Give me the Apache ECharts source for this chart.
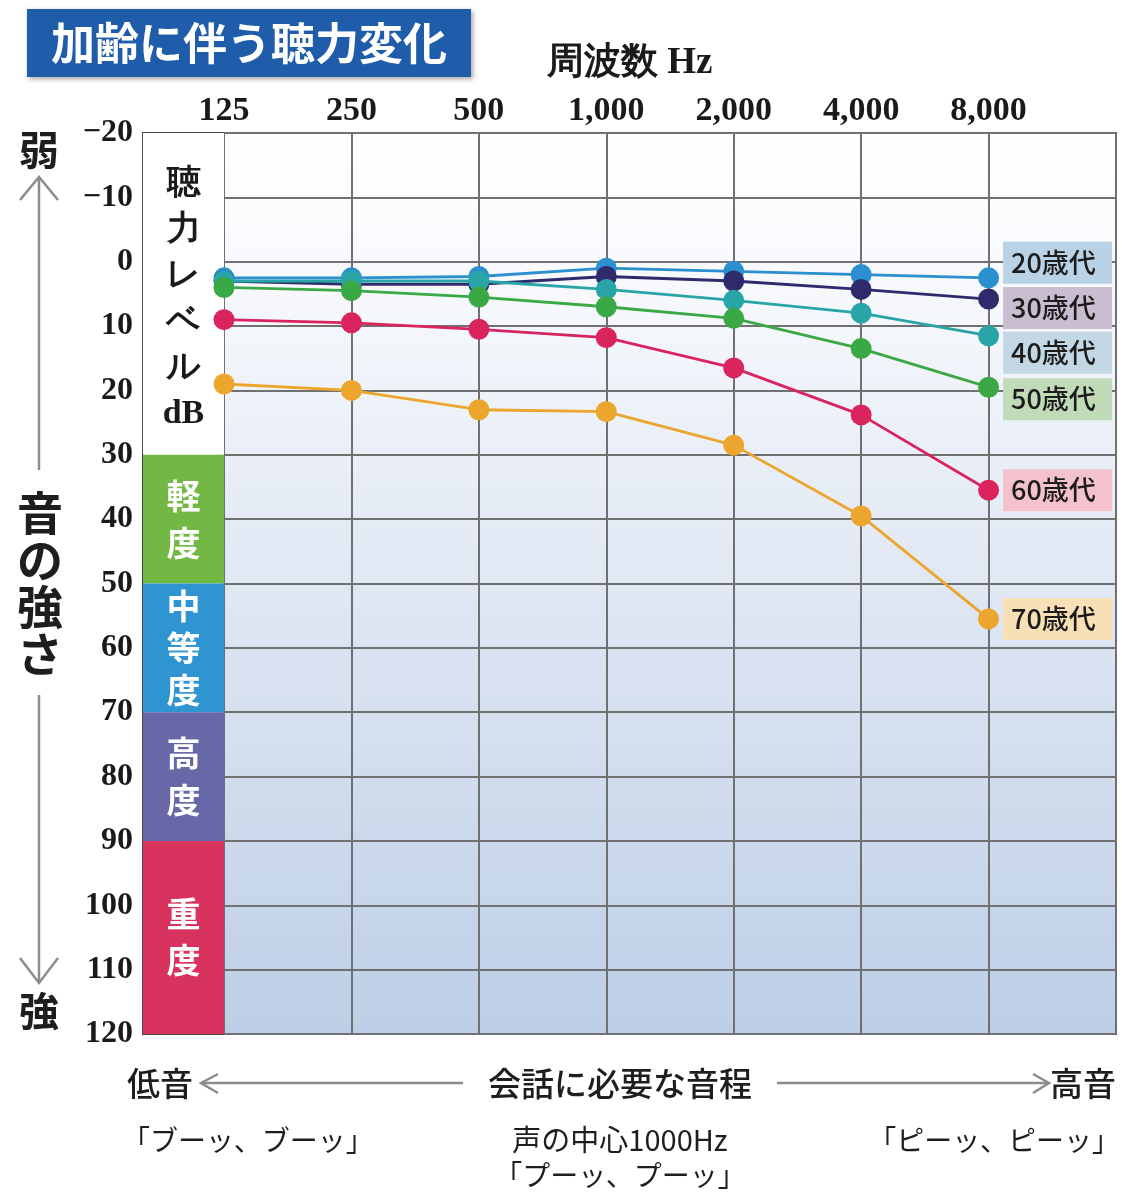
<!DOCTYPE html>
<html><head><meta charset="utf-8">
<script src="https://cdn.jsdelivr.net/npm/echarts@6/dist/echarts.min.js"></script>
<style>html,body{margin:0;padding:0;background:#fff}#c{width:1122px;height:1195px}</style>
</head><body><div id="c"></div>
<script>
// ---- data ----
const freqLabels = ['125', '250', '500', '1,000', '2,000', '4,000', '8,000'];
const seriesNames = ['20歳代', '30歳代', '40歳代', '50歳代', '60歳代', '70歳代'];
const age20 = [2.5, 2.5, 2.3, 1.0, 1.5, 2.0, 2.5];
const age30 = [3.0, 3.5, 3.5, 2.3, 3.0, 4.3, 5.8];
const age40 = [3.0, 3.0, 3.0, 4.3, 6.0, 8.0, 11.5];
const age50 = [4.0, 4.5, 5.5, 7.0, 8.8, 13.5, 19.5];
const age60 = [9.0, 9.5, 10.5, 11.8, 16.5, 23.8, 35.5];
const age70 = [19.0, 20.0, 23.0, 23.3, 28.5, 39.5, 55.5];
const bandNames = ['軽度', '中等度', '高度', '重度'];
const bandFrom = [30, 50, 70, 90];
const bandTo = [50, 70, 90, 120];
const yMin = -20, yMax = 120, yStep = 10;

// ---- styles ----
const lineColors = ['#2b8fd0', '#2e2a6c', '#2aa5a7', '#3ba846', '#d9245e', '#eca52d'];
const labelBg = ['#b9d2e5', '#c9bdd0', '#c3d8e4', '#c1dab8', '#f3c2cd', '#f8e0b6'];
const labelDy = [-15, 9, 17, 12, 0, 0];
const bandColors = ['#73b844', '#2f95d0', '#6867a8', '#d8335f'];
const bandLH = [47, 42, 47, 46];
const serifFont = "'Liberation Serif', 'DejaVu Serif', serif";
const sansFont = "'Noto Sans CJK JP', 'Noto Sans', sans-serif";

const allAges = [age20, age30, age40, age50, age60, age70];

const chart = echarts.init(document.getElementById('c'), null, {renderer: 'canvas'});

const lineSeries = allAges.map((arr, si) => ({
  type: 'line',
  name: seriesNames[si],
  xAxisIndex: 0, yAxisIndex: 0,
  z: 3 + si,
  symbol: 'circle',
  symbolSize: 21,
  lineStyle: {color: lineColors[si], width: 2.8},
  itemStyle: {color: lineColors[si]},
  label: {show: false},
  data: arr.map((v, i) => i === arr.length - 1 ? {
    value: [i, v],
    label: {
      show: true, position: 'right', distance: 4, offset: [0, labelDy[si]],
      formatter: seriesNames[si],
      backgroundColor: labelBg[si],
      padding: [6, 10, 6, 8], width: 91, lineHeight: 30,
      fontSize: 27, fontFamily: sansFont, fontWeight: 500, color: '#1c1c1c'
    }
  } : [i, v])
}));

const bandSeries = {
  type: 'line', xAxisIndex: 1, yAxisIndex: 1, data: [], silent: true,
  markArea: {
    silent: true,
    data: [
      [{yAxis: yMin, itemStyle: {color: '#ffffff'},
        label: {show: true, position: 'inside', offset: [0, 5], formatter: '聴\n力\nレ\nベ\nル\ndB',
          color: '#1a1a1a', fontSize: 34, lineHeight: 46, fontWeight: 'bold', fontFamily: serifFont}},
       {yAxis: bandFrom[0]}]
    ].concat(bandNames.map((n, i) => [
      {yAxis: bandFrom[i], itemStyle: {color: bandColors[i]},
       label: {show: true, position: 'inside', formatter: n.split('').join('\n'),
         color: '#ffffff', fontSize: 34, lineHeight: bandLH[i], fontWeight: 'bold', fontFamily: sansFont}},
      {yAxis: bandTo[i]}
    ]))
  }
};

const gTexts = (t, x, y, size, align, extra) => Object.assign({
  type: 'text', x: x, y: y, silent: true,
  style: Object.assign({text: t, fontSize: size, fontFamily: sansFont, fill: '#1e1e1e',
    align: align || 'left', verticalAlign: 'middle'}, extra || {})
});
const gLine = (x1, y1, x2, y2) => ({type: 'line', silent: true, shape: {x1, y1, x2, y2},
  style: {stroke: '#8c8c8c', lineWidth: 2.5}});
const gChev = (pts) => ({type: 'polyline', silent: true, shape: {points: pts},
  style: {stroke: '#8c8c8c', lineWidth: 2.5, fill: null}});

chart.setOption({
  animation: false,
  backgroundColor: '#ffffff',
  title: [
    {text: '加齢に伴う聴力変化', left: 27, top: 9,
     backgroundColor: '#1f5ca9', padding: [10, 24, 10, 24],
     shadowBlur: 5, shadowColor: 'rgba(0,0,0,0.35)', shadowOffsetX: 2, shadowOffsetY: 2,
     textStyle: {color: '#ffffff', fontSize: 44, lineHeight: 48, fontWeight: 'bold', fontFamily: sansFont}},
    {text: '周波数 Hz', left: 542, top: 40,
     textStyle: {color: '#1a1a1a', fontSize: 37, fontWeight: 'bold', fontFamily: serifFont}}
  ],
  grid: [
    {left: 224, right: 6, top: 133, bottom: 161, show: true, borderColor: '#4a4a4a', borderWidth: 2,
     outerBoundsMode: 'none', containLabel: false,
     backgroundColor: new echarts.graphic.LinearGradient(0, 0, 0, 1, [
       {offset: 0, color: '#ffffff'}, {offset: 0.18, color: '#f6f8fc'}, {offset: 1, color: '#bdcee6'}])},
    {left: 143, width: 81, top: 133, bottom: 161, show: true, borderColor: '#4a4a4a', borderWidth: 2,
     outerBoundsMode: 'none', containLabel: false, backgroundColor: '#ffffff'}
  ],
  xAxis: [
    {type: 'value', gridIndex: 0, position: 'top', min: 0, max: freqLabels.length, interval: 1,
     axisLine: {show: false}, axisTick: {show: false},
     splitLine: {show: true, lineStyle: {color: '#707070', width: 2}},
     axisLabel: {margin: 5, formatter: v => freqLabels[v] || '', color: '#1a1a1a',
       fontSize: 34, fontWeight: 'bold', fontFamily: serifFont}},
    {type: 'value', gridIndex: 1, min: 0, max: 1, show: false}
  ],
  yAxis: [
    {type: 'value', gridIndex: 0, inverse: true, min: yMin, max: yMax, interval: yStep,
     axisLine: {show: false}, axisTick: {show: false}, axisLabel: {show: false},
     splitLine: {show: true, lineStyle: {color: '#707070', width: 2}}},
    {type: 'value', gridIndex: 1, inverse: true, min: yMin, max: yMax, interval: yStep,
     axisLine: {show: false}, axisTick: {show: false}, splitLine: {show: false},
     axisLabel: {margin: 10, color: '#1a1a1a', fontSize: 32, fontWeight: 'bold', fontFamily: serifFont,
       formatter: v => v < 0 ? '\u2212' + (-v) : String(v)}}
  ],
  graphic: [
    gTexts('弱', 39, 150, 40, 'center', {fontWeight: 'bold'}),
    gChev([[20, 200], [39, 177], [58, 200]]),
    gLine(39, 177, 39, 470),
    gTexts('音\nの\n強\nさ', 40, 583, 46, 'center', {lineHeight: 47, fontWeight: 'bold'}),
    gLine(39, 695, 39, 983),
    gChev([[20, 958], [39, 983], [58, 958]]),
    gTexts('強', 39, 1011, 40, 'center', {fontWeight: 'bold'}),

    gTexts('低音', 127, 1083, 33, 'left', {fontWeight: 500}),
    gChev([[218, 1074], [201, 1083], [218, 1093]]),
    gLine(201, 1083, 463, 1083),
    gTexts('会話に必要な音程', 620, 1083, 33, 'center', {fontWeight: 500}),
    gLine(777, 1083, 1048, 1083),
    gChev([[1033, 1074], [1049, 1083], [1033, 1093]]),
    gTexts('高音', 1116, 1083, 33, 'right', {fontWeight: 500}),

    gTexts('「ブーッ、ブーッ」', 122, 1140, 28, 'left'),
    gTexts('声の中心1000Hz', 620, 1140, 29, 'center'),
    gTexts('「プーッ、プーッ」', 620, 1175, 28, 'center'),
    gTexts('「ピーッ、ピーッ」', 1120, 1140, 28, 'right')
  ],
  series: [bandSeries].concat(lineSeries)
});
</script></body></html>
